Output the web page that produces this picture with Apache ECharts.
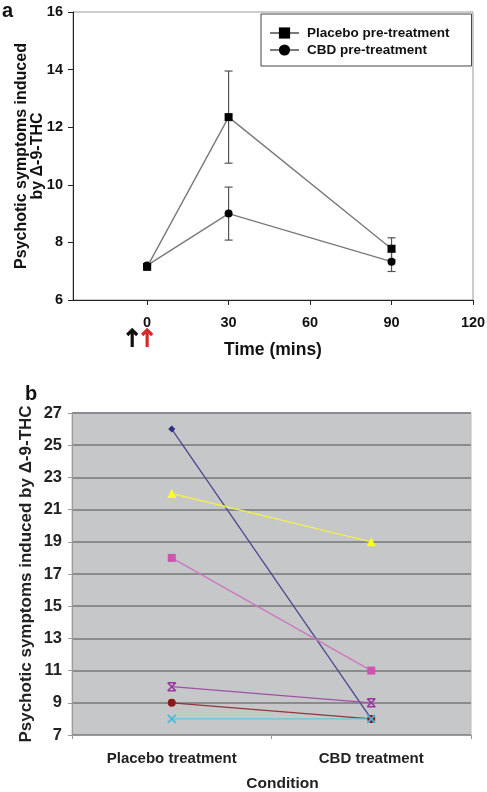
<!DOCTYPE html>
<html>
<head>
<meta charset="utf-8">
<script src="https://cdn.jsdelivr.net/npm/echarts@6/dist/echarts.min.js"></script>
<style>
html,body{margin:0;padding:0;background:#fff;}
#c{width:487px;height:792px;}
</style>
</head>
<body>
<div id="c"></div>
<script>
// ---- Panel a data ----
const timesA = [0, 30, 90];
const placeboMean = [7.15, 12.35, 7.78];
const placeboErr = [0.08, 1.6, 0.38];
const cbdMean = [7.2, 9.0, 7.33];
const cbdErr = [0.06, 0.92, 0.34];
const xTicksA = [0, 30, 60, 90, 120];
const arrowTimes = [-5.5, 0];
const arrowColors = ['#111111', '#d42a2a'];
const legendA = ['Placebo pre-treatment', 'CBD pre-treatment'];

// ---- Panel b data ----
const conditions = ['Placebo treatment', 'CBD treatment'];
const subj1 = [26, 8];
const subj2 = [22, 19];
const subj3 = [18, 11];
const subj4 = [10, 9];
const subj5 = [9, 8];
const subj6 = [8, 8];

const FONT = '"Liberation Sans", Arial, sans-serif';
const chart = echarts.init(document.getElementById('c'), null, {renderer: 'canvas'});

function errData(means, errs) {
  return timesA.map((t, i) => [t, means[i] - errs[i], means[i] + errs[i]]);
}
function errSeries(means, errs) {
  return {
    type: 'custom', xAxisIndex: 0, yAxisIndex: 0, z: 1,
    data: errData(means, errs),
    encode: {x: 0, y: [1, 2]},
    renderItem: function (params, api) {
      const x = api.value(0), lo = api.value(1), hi = api.value(2);
      const a = api.coord([x, hi]), b = api.coord([x, lo]);
      const w = 4, st = {stroke: '#555', lineWidth: 1.2};
      return {type: 'group', children: [
        {type: 'line', shape: {x1: a[0], y1: a[1], x2: b[0], y2: b[1]}, style: st},
        {type: 'line', shape: {x1: a[0] - w, y1: a[1], x2: a[0] + w, y2: a[1]}, style: st},
        {type: 'line', shape: {x1: b[0] - w, y1: b[1], x2: b[0] + w, y2: b[1]}, style: st}
      ]};
    }
  };
}
function lineB(data, color, lineColor, symbol, size, extra) {
  return Object.assign({
    type: 'line', xAxisIndex: 1, yAxisIndex: 1, data: data,
    symbol: symbol, symbolSize: size, showSymbol: true,
    lineStyle: {color: lineColor, width: 1.3},
    itemStyle: {color: color},
    z: 3
  }, extra || {});
}

const xPath = 'path://M0,0L10,10M10,0L0,10';
const starPath = 'path://M0,0L10,10M10,0L0,10M0,0L10,0M0,10L10,10';

const option = {
  animation: false,
  backgroundColor: '#ffffff',
  textStyle: {fontFamily: FONT},
  grid: [
    {left: 73, right: 14, top: 12, height: 288, containLabel: false, outerBoundsMode: 'none',
     show: true, borderColor: '#999', borderWidth: 1, backgroundColor: 'transparent'},
    {left: 72, right: 16, top: 413, height: 322, containLabel: false, outerBoundsMode: 'none',
     show: true, borderColor: '#bbb', borderWidth: 1, backgroundColor: '#c6c7c9'}
  ],
  legend: {
    data: legendA,
    orient: 'vertical',
    left: 261, top: 14,
    padding: [12, 22, 9, 8],
    itemGap: 3,
    itemWidth: 29, itemHeight: 14,
    itemStyle: {color: '#000'},
    borderColor: '#444', borderWidth: 1,
    textStyle: {fontFamily: FONT, fontWeight: 'bold', fontSize: 13.5, color: '#111', padding: [0,0,0,3]}
  },
  xAxis: [
    {
      gridIndex: 0, type: 'value', min: -27.3, max: 120,
      name: 'Time (mins)', nameLocation: 'middle', nameGap: 41, nameMoveOverlap: false,
      nameTextStyle: {fontFamily: FONT, fontWeight: 'bold', fontSize: 17.5, color: '#111'},
      axisLine: {onZero: false, lineStyle: {color: '#222', width: 1}},
      axisTick: {show: true, length: 5, customValues: xTicksA, lineStyle: {color: '#222'}},
      axisLabel: {customValues: xTicksA, fontFamily: FONT, fontWeight: 'bold', fontSize: 14.5, color: '#111', margin: 15},
      splitLine: {show: false}
    },
    {
      gridIndex: 1, type: 'category', data: conditions, boundaryGap: true,
      name: 'Condition', nameLocation: 'middle', nameGap: 41, nameMoveOverlap: false,
      nameTextStyle: {fontFamily: FONT, fontWeight: 'bold', fontSize: 15.5, color: '#222', padding: [0,0,0,22]},
      axisLine: {lineStyle: {color: '#999', width: 1}},
      axisTick: {show: true, length: 4, lineStyle: {color: '#999'}},
      axisLabel: {fontFamily: FONT, fontWeight: 'bold', fontSize: 15, color: '#222', margin: 16},
      splitLine: {show: false}
    }
  ],
  yAxis: [
    {
      gridIndex: 0, type: 'value', min: 6, max: 16, interval: 2,
      name: 'Psychotic symptoms induced\nby \u0394-9-THC', nameLocation: 'middle', nameGap: 27, nameMoveOverlap: false,
      nameTextStyle: {fontFamily: FONT, fontWeight: 'bold', fontSize: 16, color: '#111', lineHeight: 16, align: 'center'},
      axisLine: {show: true, onZero: false, lineStyle: {color: '#222', width: 1}},
      axisTick: {show: true, length: 5, lineStyle: {color: '#222'}},
      axisLabel: {fontFamily: FONT, fontWeight: 'bold', fontSize: 14.5, color: '#111', margin: 10},
      splitLine: {show: false}
    },
    {
      gridIndex: 1, type: 'value', min: 7, max: 27, interval: 2,
      name: 'Psychotic symptoms induced by \u0394-9-THC', nameLocation: 'middle', nameGap: 37, nameMoveOverlap: false,
      nameTextStyle: {fontFamily: FONT, fontWeight: 'bold', fontSize: 17, color: '#222'},
      axisLine: {show: true, onZero: false, lineStyle: {color: '#999', width: 1}},
      axisTick: {show: true, length: 4, lineStyle: {color: '#999'}},
      axisLabel: {fontFamily: FONT, fontWeight: 'bold', fontSize: 16.5, color: '#222', margin: 10},
      splitLine: {show: true, lineStyle: {color: '#8a8b8d', width: 2}}
    }
  ],
  graphic: [
    {type: 'text', left: 2, top: 1, style: {text: 'a', fontFamily: FONT, fontWeight: 'bold', fontSize: 20, fill: '#111'}},
    {type: 'text', left: 25, top: 384, style: {text: 'b', fontFamily: FONT, fontWeight: 'bold', fontSize: 20, fill: '#111'}}
  ],
  series: [
    errSeries(placeboMean, placeboErr),
    errSeries(cbdMean, cbdErr),
    {
      name: legendA[0], type: 'line', xAxisIndex: 0, yAxisIndex: 0, z: 3,
      data: timesA.map((t, i) => [t, placeboMean[i]]),
      symbol: 'rect', symbolSize: 8,
      lineStyle: {color: '#7a7a7a', width: 1.4},
      itemStyle: {color: '#000'}
    },
    {
      name: legendA[1], type: 'line', xAxisIndex: 0, yAxisIndex: 0, z: 2,
      data: timesA.map((t, i) => [t, cbdMean[i]]),
      symbol: 'circle', symbolSize: 8,
      lineStyle: {color: '#7a7a7a', width: 1.4},
      itemStyle: {color: '#000'}
    },
    lineB(subj1, '#2e2e88', '#4a4a8e', 'diamond', 7),
    lineB(subj2, '#ffff22', '#eeee55', 'triangle', 9),
    lineB(subj3, '#cc55b0', '#cc77c0', 'rect', 8),
    lineB(subj4, '#9933a0', '#a050a8', starPath, 8, {itemStyle: {color: 'transparent', borderColor: '#9933a0', borderWidth: 1.6}}),
    lineB(subj5, '#8b1a1a', '#8a3a3a', 'circle', 8),
    lineB(subj6, '#44bbdd', '#66c4e0', xPath, 8, {itemStyle: {color: 'transparent', borderColor: '#44bbdd', borderWidth: 1.6}})
  ]
};
chart.setOption(option);

// arrows beneath the time axis of panel a
const arrowGraphics = arrowTimes.map((t, i) => {
  const px = chart.convertToPixel({xAxisIndex: 0}, t);
  const top = 329, bottom = 347, hw = 5;
  const st = {stroke: arrowColors[i], lineWidth: 3.2, fill: null, lineCap: 'butt', lineJoin: 'miter'};
  return {type: 'group', children: [
    {type: 'line', shape: {x1: px, y1: top + 1, x2: px, y2: bottom}, style: st},
    {type: 'polyline', shape: {points: [[px - hw, top + hw + 1], [px, top + 1], [px + hw, top + hw + 1]]}, style: st}
  ]};
});
chart.setOption({graphic: option.graphic.concat(arrowGraphics)});
</script>
</body>
</html>
